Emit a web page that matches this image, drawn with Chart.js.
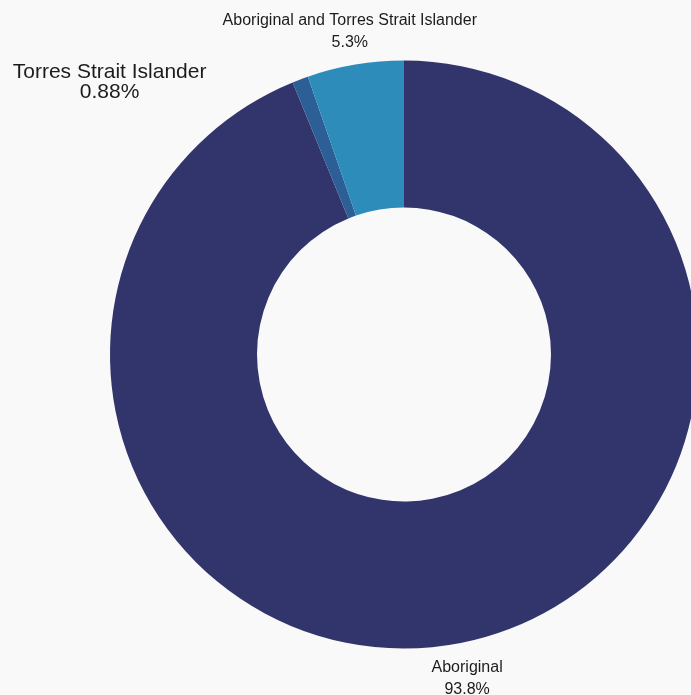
<!DOCTYPE html>
<html>
<head>
<meta charset="utf-8">
<script src="https://cdn.jsdelivr.net/npm/chart.js@4/dist/chart.umd.min.js"></script>
<style>
  html, body { margin: 0; padding: 0; background: #f9f9f9; overflow: hidden; }
  #wrap { position: relative; width: 691px; height: 695px; overflow: hidden; }
  #c { position: absolute; left: 0; top: 0; }
</style>
</head>
<body>
<div id="wrap"><canvas id="c" width="808" height="709"></canvas></div>
<script>
const categories = ['Aboriginal', 'Torres Strait Islander', 'Aboriginal and Torres Strait Islander'];
const shares = [93.8, 0.88, 5.3];
const shareLabels = ['93.8%', '0.88%', '5.3%'];
const sliceColors = ['#32356b', '#2c5f96', '#2e8cba'];

// Per-label styling: the small slice gets a larger label moved clear of its neighbour
const labelFonts = [16, 21, 16];
const labelLineGap = [22, 20, 22];
const labelShift = [[0, 3], [-179, 34], [0, 0]];

const outsideLabels = {
  id: 'outsideLabels',
  afterDatasetsDraw(chart) {
    const ctx = chart.ctx;
    const meta = chart.getDatasetMeta(0);
    meta.data.forEach((arc, i) => {
      const mid = (arc.startAngle + arc.endAngle) / 2;
      const r = arc.outerRadius + 33;
      const x = arc.x + Math.cos(mid) * r + labelShift[i][0];
      const y = arc.y + Math.sin(mid) * r + labelShift[i][1];
      const fs = labelFonts[i];
      ctx.save();
      ctx.fillStyle = '#1c1c1c';
      ctx.textAlign = 'center';
      ctx.textBaseline = 'middle';
      ctx.font = fs + 'px "Liberation Sans", Arial, sans-serif';
      const lh = labelLineGap[i];
      ctx.fillText(categories[i], x, y - lh / 2);
      ctx.fillText(shareLabels[i], x, y + lh / 2);
      ctx.restore();
    });
  }
};

new Chart(document.getElementById('c'), {
  type: 'doughnut',
  data: {
    labels: categories,
    datasets: [{
      data: shares,
      backgroundColor: sliceColors,
      borderWidth: 0,
      hoverOffset: 0
    }]
  },
  options: {
    responsive: false,
    animation: false,
    cutout: '50%',
    rotation: 0,
    layout: { padding: { top: 60, bottom: 60, left: 110, right: 110 } },
    plugins: {
      legend: { display: false },
      tooltip: { enabled: false }
    }
  },
  plugins: [outsideLabels]
});
</script>
</body>
</html>
